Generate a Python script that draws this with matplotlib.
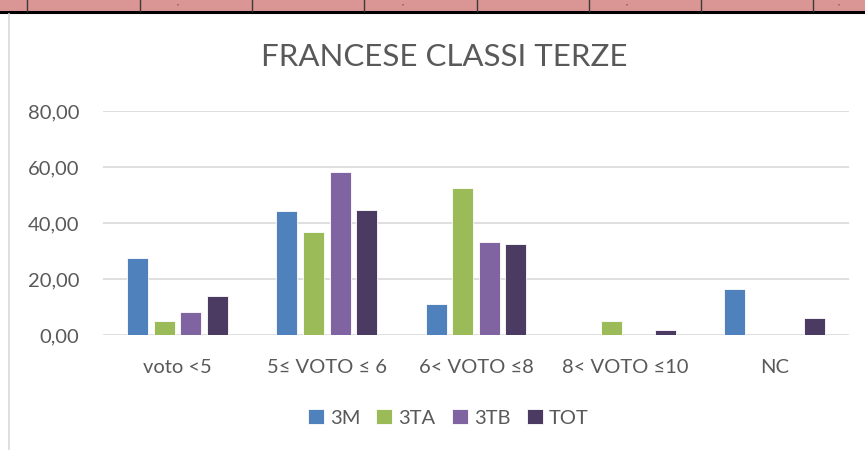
import matplotlib.pyplot as plt
import numpy as np

categories = ["voto <5", "5\u2264 VOTO \u2264 6", "6< VOTO \u22648", "8< VOTO \u226410", "NC"]
series = ["3M", "3TA", "3TB", "TOT"]
v_3m = [27.6, 44.3, 11.0, 0.0, 16.4]
v_3ta = [5.0, 36.8, 52.5, 5.0, 0.0]
v_3tb = [8.2, 58.2, 33.1, 0.0, 0.0]
v_tot = [14.0, 44.6, 32.4, 1.8, 6.0]
colors = ["#4F81BD", "#9BBB59", "#8064A2", "#4B3A61"]
yticks = [0, 20, 40, 60, 80]

plt.rcParams['font.family'] = ['Lato', 'DejaVu Sans']
fig = plt.figure(figsize=(8.65, 4.5), dpi=100)

# table strip at the top of the page
strip = fig.add_axes([0, 0, 1, 1])
strip.set_xlim(0, 865)
strip.set_ylim(450, 0)
strip.axis("off")
strip.fill_between([0, 865], 0, 10.5, color="#DA9694", lw=0)
strip.plot([0, 865], [11.5, 11.5], color="black", lw=2.2)
for x in [27, 140, 252, 364, 477, 589, 701, 813]:
    strip.plot([x, x], [0, 10.5], color="#3a3a3a", lw=1)
for x in [177, 402, 626, 838]:
    strip.text(x, 3, ",", fontsize=6, color="#333333", ha="center", va="center")
strip.plot([8.5, 8.5], [14, 450], color="#d9d9d9", lw=1.2)

ax = fig.add_axes([103 / 865, 1 - 335 / 450, 746 / 865, 224 / 450])
x = np.arange(len(categories))
w = 0.141
step = 0.178
for i, (name, vals) in enumerate(zip(series, [v_3m, v_3ta, v_3tb, v_tot])):
    ax.bar(x + (i - 1.5) * step, vals, w, color=colors[i], label=name,
           edgecolor="white", linewidth=0.6, zorder=3)

ax.set_xlim(-0.5, len(categories) - 0.5)
ax.set_ylim(0, 80)
ax.set_yticks(yticks)
ax.set_yticklabels([("%.2f" % t).replace(".", ",") for t in yticks])
ax.set_xticks(x)
ax.set_xticklabels(categories)
ax.grid(axis="y", color="#d9d9d9", lw=1.2, zorder=0)
for s in ax.spines.values():
    s.set_visible(False)
ax.tick_params(axis="both", length=0, labelsize=14.5, colors="#595959")
ax.tick_params(axis="x", pad=17)
ax.tick_params(axis="y", pad=17)

fig.text(444 / 865, 1 - 57 / 450, "FRANCESE CLASSI TERZE", ha="center", va="center",
         fontsize=22.5, color="#595959")

leg = fig.legend(loc="center", bbox_to_anchor=(448 / 865, 1 - 418 / 450), ncol=4,
                 frameon=False, fontsize=14.5, handlelength=0.8, handleheight=0.75,
                 handletextpad=0.3, columnspacing=0.8)
for t in leg.get_texts():
    t.set_color("#595959")

fig.savefig("out.png", dpi=100)
